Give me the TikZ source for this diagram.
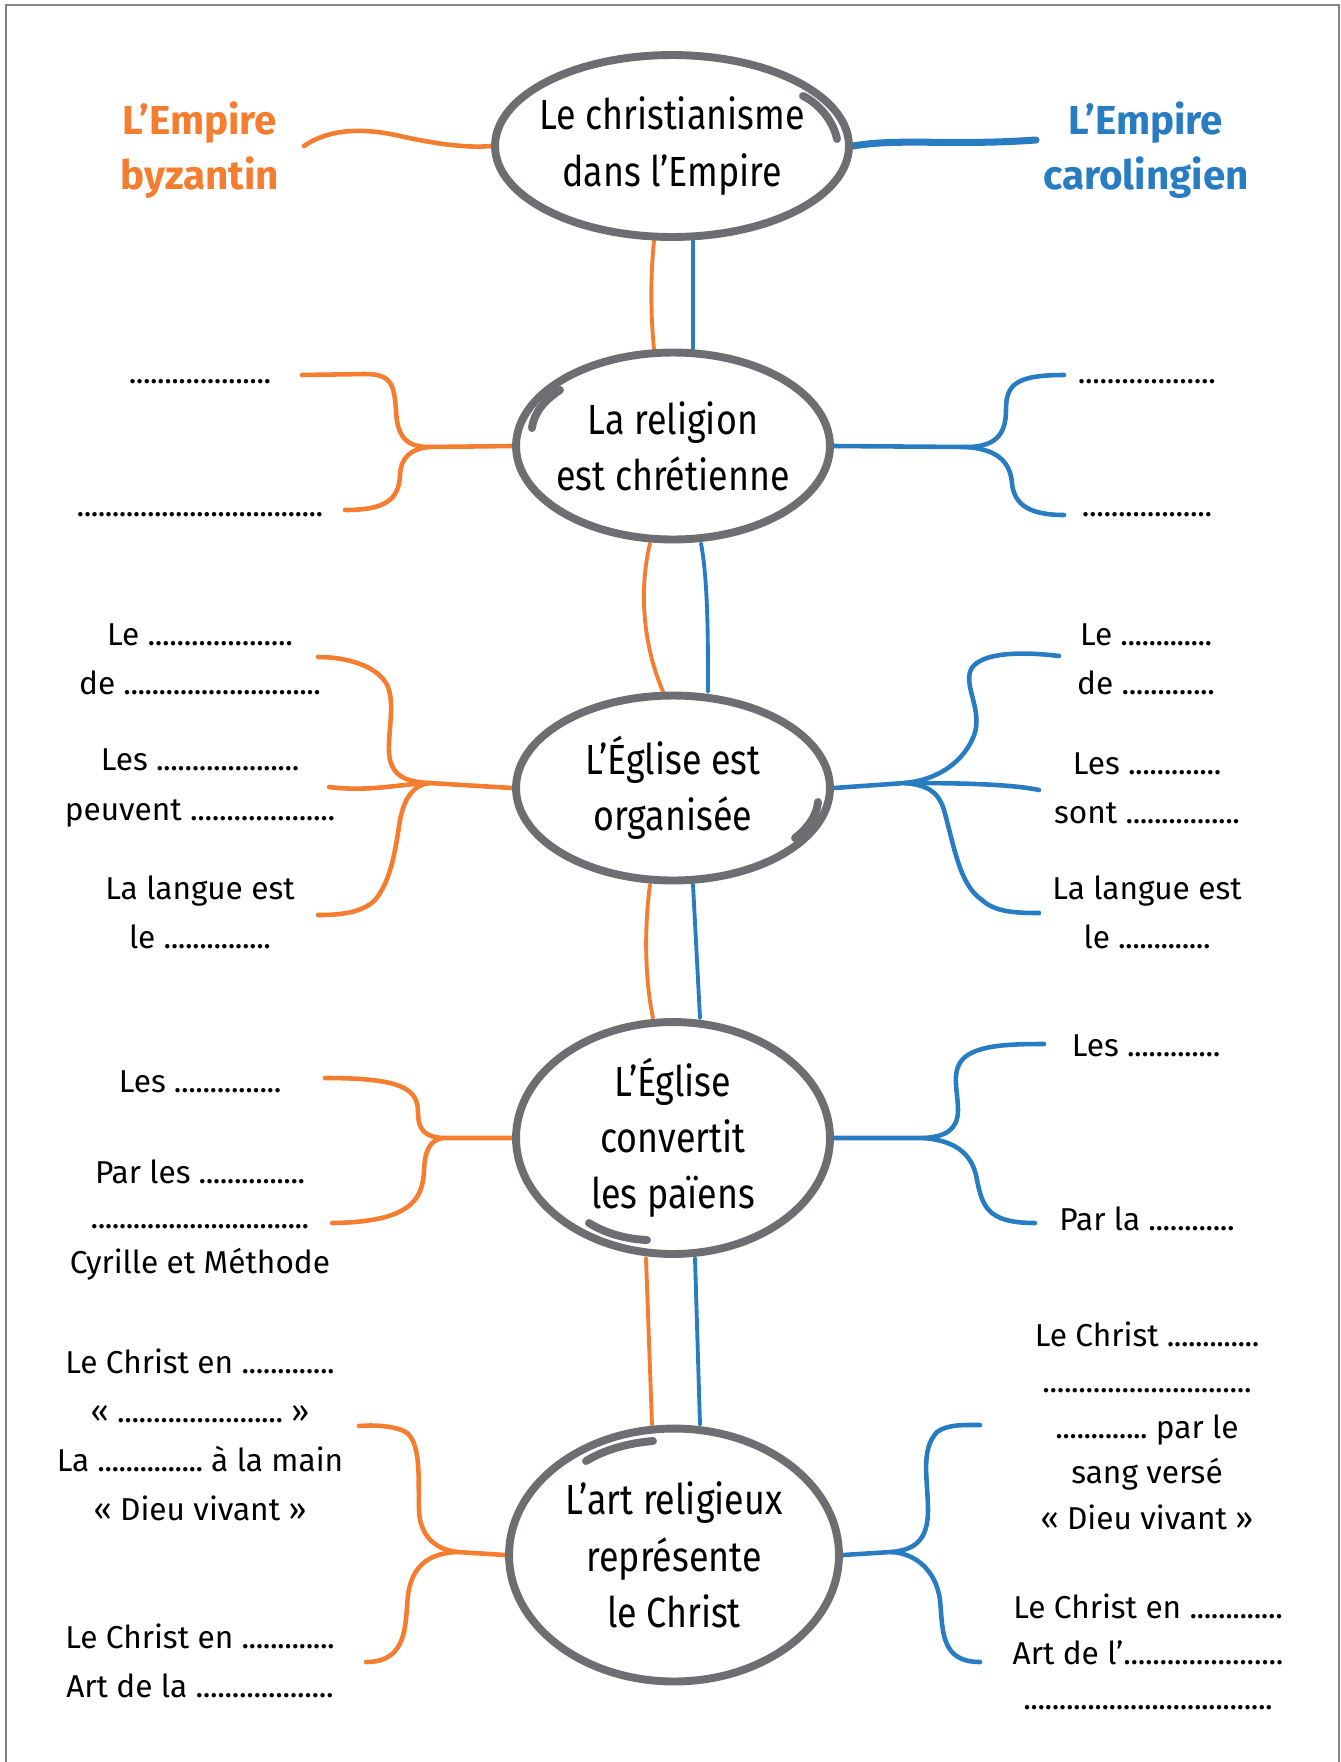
\documentclass[tikz,border=0pt]{standalone}
\usepackage{fontspec}
\usetikzlibrary{shapes.geometric,calc,backgrounds}
\newfontfamily\hand{Fira Sans}
\newfontfamily\bulle{Fira Sans}[FakeStretch=0.85]
\definecolor{orangeb}{HTML}{F47D30}
\definecolor{bleuc}{HTML}{287CC2}
\definecolor{grisb}{HTML}{6D6E71}
\newlength\px
\setlength\px{0.02cm}
\newcommand\pts[1]{\hbox to #1\px{\xleaders\hbox to 7\px{\hss.\hss}\hfill}}

\begin{document}
\begin{tikzpicture}[x=0.02cm,y=-0.02cm]
            \tikzstyle{every node}+=[inner sep=0pt]
            \tikzstyle{bulle}=[ellipse,draw=grisb,line width=4.5pt,fill=white,align=center,inner sep=-20pt,font=\bulle\fontsize{24}{32}\selectfont]
            \tikzstyle{txt}=[align=center,font=\hand\fontsize{18}{28}\selectfont]
            \tikzstyle{titre}=[align=center,font=\hand\bfseries\fontsize{23}{31}\selectfont]
            \tikzstyle{byz}=[orangeb,line width=2.6pt,line cap=round]
            \tikzstyle{caro}=[bleuc,line width=2.6pt,line cap=round]
            \tikzstyle{trait}=[grisb,line width=4.5pt,line cap=round]
            \useasboundingbox (0,0) rectangle (1341,1762);
            \draw [grisb!85,line width=1.1pt] (6,1762) -- (6,5) -- (1339,5) -- (1339,1762);
            \node [bulle,minimum width=7.08cm,minimum height=3.64cm] (e1) at (672,146) {Le christianisme\\dans l’Empire};
            \node [bulle,minimum width=6.28cm,minimum height=3.74cm] (e2) at (673,446) {La religion\\est chrétienne};
            \node [bulle,minimum width=6.28cm,minimum height=3.70cm] (e3) at (673,788) {L’Église est\\organisée};
            \node [bulle,minimum width=6.28cm,minimum height=4.64cm] (e4) at (673,1138) {L’Église\\convertit\\les païens};
            \node [bulle,minimum width=6.60cm,minimum height=5.06cm] (e5) at (674,1555) {L’art religieux\\représente\\le Christ};
            \draw [trait] (803,96) .. controls (818,103) and (833,120) .. (837,139);
            \draw [trait] (560,390) .. controls (545,400) and (534,412) .. (532,428);
            \draw [trait] (818,802) .. controls (817,815) and (808,828) .. (795,838);
            \draw [trait] (589,1223) .. controls (605,1233) and (625,1239) .. (647,1240);
            \draw [trait] (586,1461) .. controls (604,1450) and (628,1443) .. (653,1441);
            \node [titre,text=orangeb] (byz) at (200,150) {L’Empire\\byzantin};
            \node [titre,text=bleuc] (caro) at (1146,150) {L’Empire\\carolingien};
            \node [txt] (g2a) at (200,382) {\pts{142}};
            \node [txt] (g2b) at (200,515) {\pts{246}};
            \node [txt] (d2a) at (1147,382) {\pts{138}};
            \node [txt] (d2b) at (1147,515) {\pts{130}};
            \node [txt] (g3a) at (200,659) {Le \pts{145}\\de \pts{197}};
            \node [txt] (g3b) at (200,788) {Les \pts{143}\\peuvent \pts{145}};
            \node [txt] (g3c) at (200,912) {La langue est\\le \pts{107}};
            \node [txt] (d3a) at (1146,659) {Le \pts{91}\\de \pts{93}};
            \node [txt] (d3b) at (1147,788) {Les \pts{93}\\sont \pts{114}};
            \node [txt] (d3c) at (1147,912) {La langue est\\le \pts{92}};
            \node [txt] (g4a) at (200,1082) {Les \pts{107}};
            \node [txt,font=\hand\fontsize{18}{25.5}\selectfont] (g4b) at (200,1220) {Par les \pts{106}\\\pts{218}\\Cyrille et Méthode};
            \node [txt] (d4a) at (1146,1046) {Les \pts{93}};
            \node [txt] (d4b) at (1147,1219) {Par la \pts{86}};
            \node [txt] (g5a) at (200,1435) {Le Christ en \pts{93}\\« \pts{166} »\\La \pts{105} à la main\\« Dieu vivant »};
            \node [txt] (g5b) at (200,1661) {Le Christ en \pts{93}\\Art de la \pts{138}};
            \node [txt,font=\hand\fontsize{18}{26}\selectfont] (d5a) at (1147,1426) {Le Christ \pts{92}\\\pts{209}\\\pts{92} par le\\sang versé\\« Dieu vivant »};
            \node [txt,font=\hand\fontsize{18}{26}\selectfont] (d5b) at (1148,1652) {Le Christ en \pts{93}\\Art de l’\pts{160}\\\pts{249}};
            \coordinate (bz) at (304,146);
            \coordinate (cr) at (1036,140);
            \coordinate (jo2) at (429,447);
            \coordinate (o2h) at (302,375);
            \coordinate (o2b) at (345,510);
            \coordinate (jb2) at (966,447);
            \coordinate (b2h) at (1064,375);
            \coordinate (b2b) at (1064,515);
            \coordinate (jo3) at (429,783);
            \coordinate (o3h) at (318,657);
            \coordinate (o3m) at (329,787);
            \coordinate (o3b) at (318,915);
            \coordinate (jb3) at (905,783);
            \coordinate (b3h) at (1059,656);
            \coordinate (b3m) at (1039,790);
            \coordinate (b3b) at (1039,913);
            \coordinate (jo4) at (443,1138);
            \coordinate (o4h) at (325,1078);
            \coordinate (o4b) at (332,1223);
            \coordinate (jb4) at (923,1138);
            \coordinate (b4h) at (1044,1044);
            \coordinate (b4b) at (1035,1223);
            \coordinate (jo5) at (457,1552);
            \coordinate (o5h) at (359,1426);
            \coordinate (o5b) at (366,1662);
            \coordinate (jb5) at (891,1552);
            \coordinate (b5h) at (980,1425);
            \coordinate (b5b) at (980,1662);
            \begin{scope}[on background layer]
            \draw [byz] (bz) .. controls (330,128) and (365,128) .. (400,136) .. controls (440,145) and (470,148) .. (e1.west);
            \draw [caro,line width=4pt] (e1.east) .. controls (900,138) and (950,146) .. (cr);
            \draw [byz,line width=2.2pt] ($(e1.south)+(-18,0)$) .. controls (650,280) and (651,320) .. ($(e2.north)+(-19,0)$);
            \draw [caro,line width=2.2pt] ($(e1.south)+(21,0)$) -- ($(e2.north)+(20,0)$);
            \draw [byz,line width=2.2pt] ($(e2.south)+(-23,0)$) .. controls (640,585) and (641,640) .. ($(e3.north)+(-10,0)$);
            \draw [caro,line width=2.2pt] ($(e2.south)+(28,0)$) .. controls (708,580) and (708,640) .. ($(e3.north)+(35,0)$);
            \draw [byz,line width=2.2pt] ($(e3.south)+(-23,0)$) .. controls (644,930) and (645,980) .. ($(e4.north)+(-20,0)$);
            \draw [caro,line width=2.2pt] ($(e3.south)+(20,0)$) -- ($(e4.north)+(27,0)$);
            \draw [byz,line width=2.2pt] ($(e4.south)+(-27,0)$) -- ($(e5.north)+(-22,0)$);
            \draw [caro,line width=2.2pt] ($(e4.south)+(22,0)$) -- ($(e5.north)+(26,0)$);
            \draw [byz] (e2.west) -- (jo2) .. controls (405,447) and (397,435) .. (396,410) .. controls (394,385) and (392,374) .. (365,374) -- (o2h);
            \draw [byz] (jo2) .. controls (410,449) and (401,458) .. (400,475) .. controls (399,500) and (385,510) .. (o2b);
            \draw [caro] (e2.east) -- (jb2) .. controls (995,447) and (1006,435) .. (1006,410) .. controls (1006,385) and (1015,375) .. (b2h);
            \draw [caro] (jb2) .. controls (995,449) and (1010,460) .. (1012,483) .. controls (1014,505) and (1030,515) .. (b2b);
            \draw [byz] (e3.west) -- (jo3) .. controls (405,782) and (390,775) .. (389,752) .. controls (388,730) and (396,700) .. (386,683) .. controls (375,665) and (345,657) .. (o3h);
            \draw [byz] (jo3) .. controls (400,784) and (370,792) .. (o3m);
            \draw [byz] (jo3) .. controls (415,785) and (405,795) .. (400,820) .. controls (396,845) and (392,880) .. (375,900) .. controls (362,913) and (340,915) .. (o3b);
            \draw [caro] (e3.east) -- (jb3) .. controls (935,780) and (960,765) .. (972,740) .. controls (985,715) and (965,690) .. (970,672) .. controls (975,655) and (1010,650) .. (b3h);
            \draw [caro] (jb3) .. controls (960,783) and (1010,784) .. (b3m);
            \draw [caro] (jb3) .. controls (925,785) and (938,790) .. (944,810) .. controls (955,850) and (960,885) .. (982,900) .. controls (995,912) and (1015,913) .. (b3b);
            \draw [byz] (e4.west) -- (jo4) .. controls (425,1137) and (418,1130) .. (418,1112) .. controls (418,1088) and (400,1078) .. (o4h);
            \draw [byz] (jo4) .. controls (430,1140) and (425,1150) .. (424,1170) .. controls (423,1200) and (410,1222) .. (o4b);
            \draw [caro] (e4.east) -- (jb4) .. controls (945,1137) and (958,1130) .. (958,1110) .. controls (958,1090) and (950,1070) .. (965,1057) .. controls (980,1045) and (1010,1044) .. (b4h);
            \draw [caro] (jb4) .. controls (950,1140) and (970,1150) .. (976,1175) .. controls (982,1205) and (985,1223) .. (b4b);
            \draw [byz] (e5.west) -- (jo5) .. controls (440,1550) and (420,1540) .. (419,1510) .. controls (418,1480) and (422,1440) .. (404,1431) .. controls (390,1425) and (370,1425) .. (o5h);
            \draw [byz] (jo5) .. controls (430,1553) and (412,1565) .. (408,1595) .. controls (405,1625) and (408,1662) .. (o5b);
            \draw [caro] (e5.east) -- (jb5) .. controls (915,1550) and (928,1540) .. (928,1510) .. controls (928,1480) and (920,1450) .. (937,1432) .. controls (948,1424) and (965,1425) .. (b5h);
            \draw [caro] (jb5) .. controls (915,1553) and (936,1570) .. (940,1600) .. controls (943,1630) and (940,1662) .. (b5b);
            \end{scope}
\end{tikzpicture}
\end{document}
